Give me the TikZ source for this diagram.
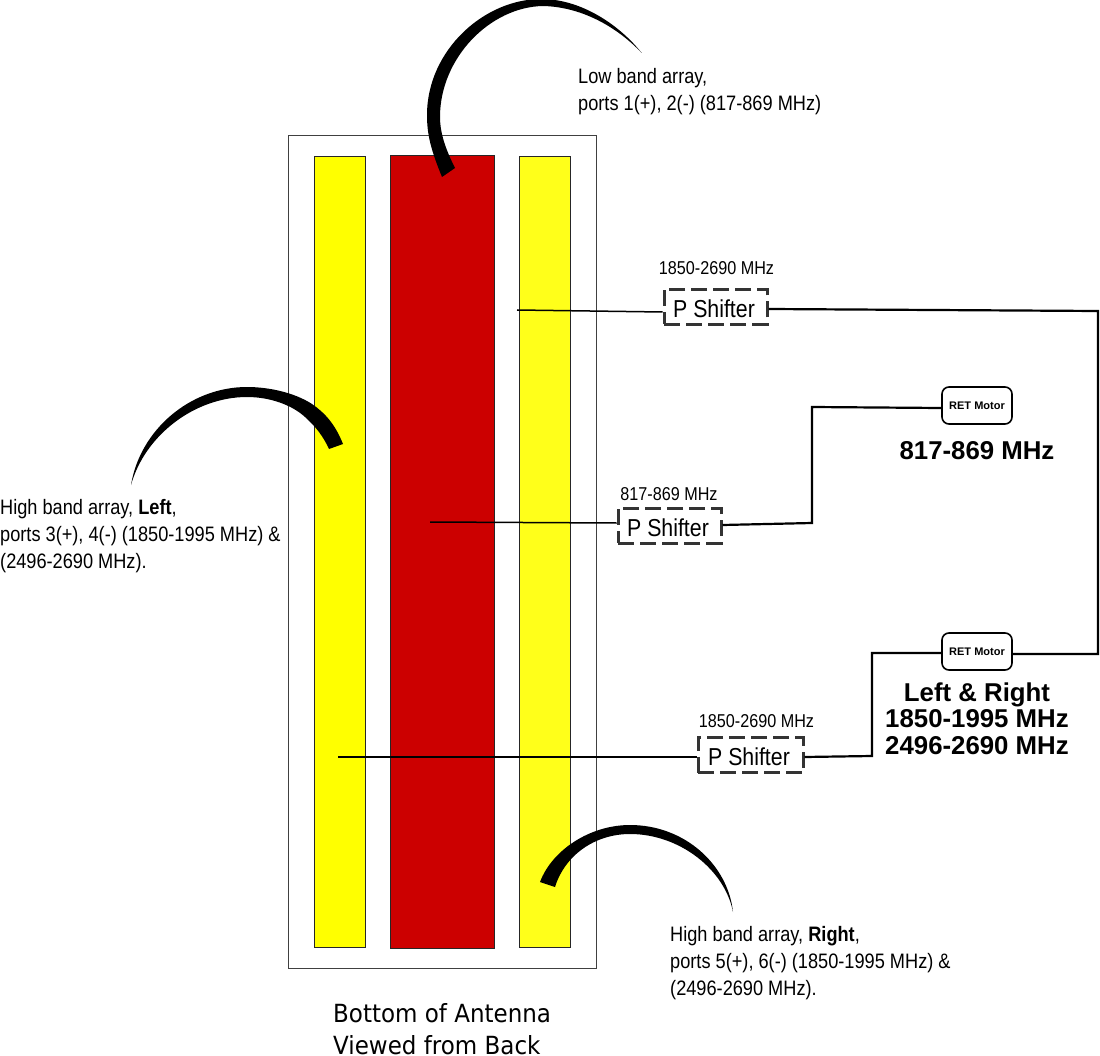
\documentclass[tikz,border=0pt]{standalone}
\usepackage{fontspec}
\setmainfont{Liberation Sans}[FakeStretch=0.87]
\newfontfamily\plainbold{Liberation Sans Bold}
\newfontfamily\capfont{DejaVu Sans}[FakeStretch=0.92]
\definecolor{bandred}{RGB}{204,0,0}
\definecolor{bandyelA}{RGB}{255,255,0}
\definecolor{bandyelB}{RGB}{255,255,26}
\definecolor{dashgrey}{RGB}{51,51,51}
\newcommand{\shiftertext}{\raisebox{-2pt}[\height][\depth]{P Shifter}\hspace*{3pt}}
\tikzset{
  band/.style={draw=black!85,line width=1.2pt,inner sep=0pt,minimum width=#1,anchor=north west},
  shifter/.style={draw=dashgrey,line width=3pt,dash pattern=on 16pt off 6pt,inner sep=0pt,minimum width=103pt,minimum height=35pt,font=\fontsize{24.5}{24.5}\selectfont},
  retbox/.style={draw=black,line width=1.6pt,rounded corners=7pt,inner sep=0pt,minimum width=70pt,minimum height=37pt,font=\plainbold\fontsize{11}{11}\selectfont},
  wire/.style={draw=black,line width=1.5pt},
  wirethick/.style={draw=black,line width=2.2pt},
  lbl/.style={anchor=base west,inner sep=0pt,font=\fontsize{20.9}{20.9}\selectfont},
  lblsmall/.style={anchor=base,inner sep=0pt,font=\fontsize{18.6}{18.6}\selectfont},
  lblbold/.style={anchor=base,inner sep=0pt,font=\plainbold\fontsize{25.8}{25.8}\selectfont},
  captxt/.style={anchor=base west,inner sep=0pt,font=\capfont\fontsize{25}{25}\selectfont},
  lead/.style={fill=black,draw=none},
}
\begin{document}
\begin{tikzpicture}[x=1pt,y=-1pt]
\useasboundingbox (0,0) rectangle (1100,1056);
% antenna body
\node[draw=black!75,line width=1.2pt,inner sep=0pt,minimum width=308pt,minimum height=833pt,anchor=north west] (body) at (288,135) {};
\node[band=51pt,fill=bandyelA,minimum height=791pt] (yleft) at (314,156) {};
\node[band=104pt,fill=bandred,minimum height=793pt] (red) at (390,155) {};
\node[band=51pt,fill=bandyelB,minimum height=791pt] (yright) at (519,156) {};
% phase shifters and motors
\node[shifter] (ps1) at (715.5,307) {\shiftertext};
\node[shifter] (ps2) at (669.5,525.5) {\shiftertext};
\node[shifter,minimum width=105pt] (ps3) at (750.5,755) {\shiftertext};
\node[retbox] (ret1) at (977,405.5) {RET Motor};
\node[retbox] (ret2) at (977,651.5) {RET Motor};
% free ends
\coordinate (e1) at (517,310);
\coordinate (e2) at (430,522);
\coordinate (e3) at (338,757);
% connectors
\draw[wire] (e1) -- (ps1.west |- 0,312);
\draw[wire] (e2) -- (ps2.west |- 0,523);
\draw[wire] (e3) -- (ps3.west |- e3);
\draw[wirethick] (ps1.east |- 0,309) -- (1098,311) -- (1098,654) -- (ret2.east |- 0,654);
\draw[wirethick] (ps2.east |- 0,525) -- (812,523) -- (812,407) -- (ret1.west |- 0,408);
\draw[wirethick] (ps3.east |- 0,757) -- (872,756) -- (872,653) -- (ret2.west |- 0,653);
% curved leaders
\fill[lead] (442,177) .. controls (431,150) and (427,135) .. (427,115)
  .. controls (427,50) and (485,-2) .. (543,-1)
  .. controls (585,0) and (622,28) .. (641.7,53)
  .. controls (620,30) and (585,7) .. (543,6)
  .. controls (490,7) and (440,58) .. (440,117)
  .. controls (440,135) and (447,152) .. (455,168) -- cycle;
\fill[lead] (343,444) .. controls (335,424) and (325,413) .. (312,404)
  .. controls (295,393) and (270,387) .. (247,387)
  .. controls (190,387) and (140,430) .. (131,485)
  .. controls (145,435) and (195,397) .. (247,397)
  .. controls (270,397) and (292,405) .. (305,417)
  .. controls (316,427) and (323,436) .. (329,449) -- cycle;
\fill[lead] (540,882) .. controls (552,850) and (590,825) .. (630,825)
  .. controls (685,825) and (728,865) .. (733,912)
  .. controls (725,870) and (680,834) .. (630,834)
  .. controls (595,834) and (565,855) .. (555,887) -- cycle;
% labels
\node[lbl] (t1a) at (578,84) {Low band array,};
\node[lbl] (t1b) at (578,111) {ports 1(+), 2(-) (817-869 MHz)};
\node[lbl] (t2a) at (0,514) {High band array, \textbf{Left},};
\node[lbl] (t2b) at (0,541) {ports 3(+), 4(-) (1850-1995 MHz) \&};
\node[lbl] (t2c) at (0,568) {(2496-2690 MHz).};
\node[lbl] (t3a) at (670,941) {High band array, \textbf{Right},};
\node[lbl] (t3b) at (670,968) {ports 5(+), 6(-) (1850-1995 MHz) \&};
\node[lbl] (t3c) at (670,995) {(2496-2690 MHz).};
\node[lblsmall] (f1) at (716.5,275) {1850-2690 MHz};
\node[lblsmall] (f2) at (669,500) {817-869 MHz};
\node[lblsmall] (f3) at (756.5,727) {1850-2690 MHz};
\node[lblbold] (b1) at (977,459) {817-869 MHz};
\node[lblbold] (b2) at (977,701) {Left \& Right};
\node[lblbold] (b3) at (977,727) {1850-1995 MHz};
\node[lblbold] (b4) at (977,754) {2496-2690 MHz};
\node[captxt] (c1) at (333,1022) {Bottom of Antenna};
\node[captxt] (c2) at (333,1054) {Viewed from Back};
\end{tikzpicture}
\end{document}
